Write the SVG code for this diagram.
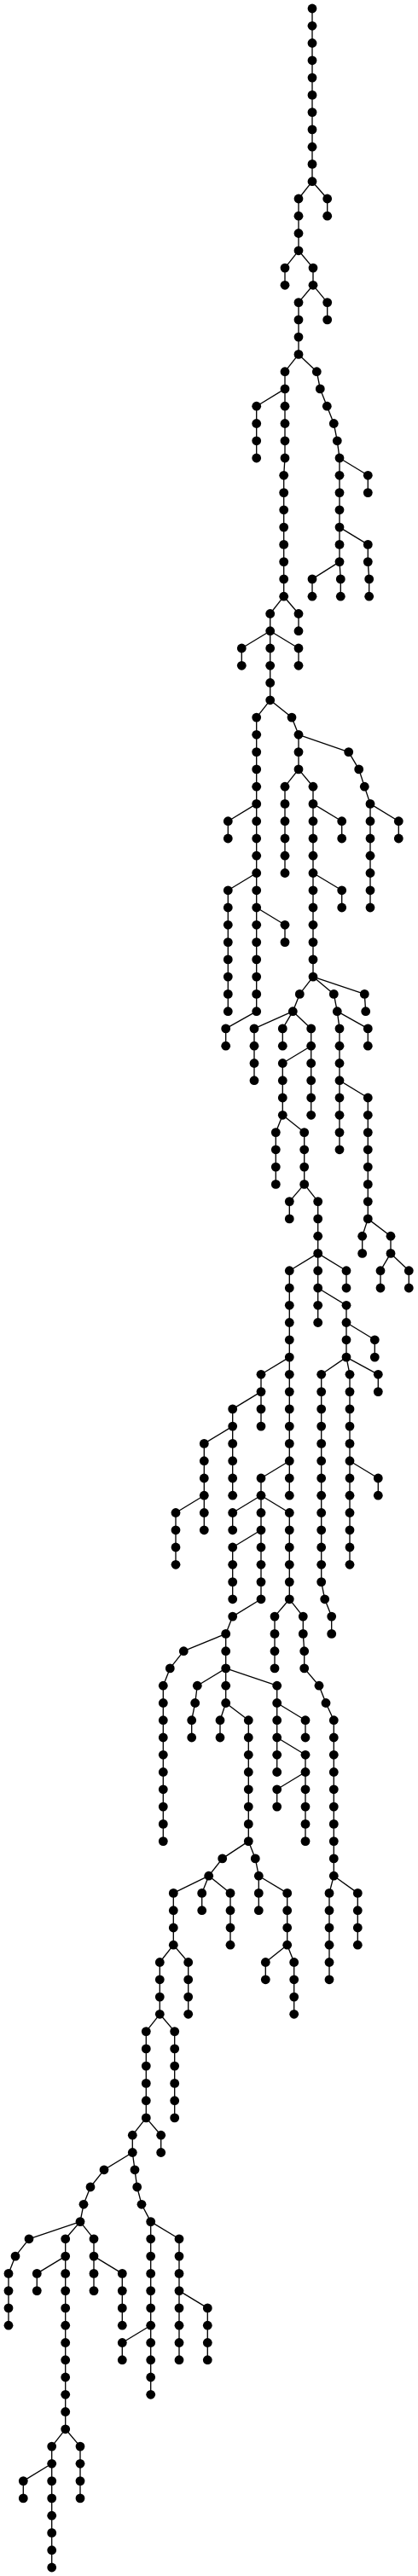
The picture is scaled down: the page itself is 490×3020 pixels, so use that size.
<svg xmlns="http://www.w3.org/2000/svg" width="490" height="3020" viewBox="0 0 490 3020">
<style>
.bg{fill:#fff}
.e path{fill:none;stroke:#000;stroke-width:1.33}
.n circle{fill:#000}
</style>
<rect class="bg" width="490" height="3020"/>
<g id="connectors" class="e">
<path d="M366 10V30.3"/><path d="M366 30.3V50.5"/><path d="M366 50.5V70.8"/><path d="M366 70.8V91.1"/><path d="M366 91.1V111.4"/><path d="M366 111.4V131.6"/><path d="M366 131.6V151.9"/><path d="M366 151.9V172.2"/><path d="M366 172.2V192.4"/><path d="M366 192.4V212.7"/>
<path d="M366 212.7L350 233"/><path d="M366 212.7L383.7 233"/>
<path d="M350 233V253.2"/><path d="M383.7 233V253.2"/>
<path d="M350 253.2V273.5"/><path d="M350 273.5V293.8"/>
<path d="M350 293.8L334 314.1"/><path d="M350 293.8L367 314.1"/>
<path d="M334 314.1V334.3"/><path d="M367 314.1V334.3"/>
<path d="M367 334.3L350 354.6"/><path d="M367 334.3L383.7 354.6"/>
<path d="M350 354.6V374.9"/><path d="M383.7 354.6V374.9"/>
<path d="M350 374.9V395.1"/><path d="M350 395.1V415.4"/>
<path d="M350 415.4L334 435.7"/><path d="M350 415.4L371.3 435.7"/>
<path d="M334 435.7V455.9"/><path d="M371.3 435.7L375.3 455.9"/>
<path d="M334 455.9L300.7 476.2"/><path d="M334 455.9V476.2"/><path d="M375.3 455.9L383.3 476.2"/>
<path d="M300.7 476.2V496.5"/><path d="M334 476.2V496.5"/><path d="M383.3 476.2L391.3 496.5"/>
<path d="M300.7 496.5V516.8"/><path d="M334 496.5V516.8"/><path d="M391.3 496.5L395.3 516.8"/>
<path d="M300.7 516.8V537"/><path d="M334 516.8V537"/><path d="M395.3 516.8L398 537"/>
<path d="M334 537L332.7 557.3"/><path d="M398 537V557.3"/><path d="M398 537L431.3 557.3"/>
<path d="M332.7 557.3V577.6"/><path d="M398 557.3V577.6"/><path d="M431.3 557.3V577.6"/>
<path d="M332.7 577.6V597.8"/><path d="M398 577.6V597.8"/>
<path d="M332.7 597.8V618.1"/><path d="M398 597.8V618.1"/>
<path d="M332.7 618.1V638.4"/><path d="M398 618.1V638.4"/><path d="M398 618.1L431.3 638.4"/>
<path d="M332.7 638.4V658.6"/><path d="M398 638.4V658.6"/><path d="M431.3 638.4V658.6"/>
<path d="M332.7 658.6V678.9"/><path d="M398 658.6L366 678.9"/><path d="M398 658.6L399.3 678.9"/><path d="M431.3 658.6L432.7 678.9"/>
<path d="M332.7 678.9V699.2"/><path d="M366 678.9V699.2"/><path d="M399.3 678.9V699.2"/><path d="M432.7 678.9V699.2"/>
<path d="M332.7 699.2L316.7 719.5"/><path d="M332.7 699.2L350 719.5"/>
<path d="M316.7 719.5V739.7"/><path d="M350 719.5V739.7"/>
<path d="M316.7 739.7L283.3 760"/><path d="M316.7 739.7V760"/><path d="M316.7 739.7L350 760"/>
<path d="M283.3 760V780.3"/><path d="M316.7 760V780.3"/><path d="M350 760V780.3"/>
<path d="M316.7 780.3V800.5"/><path d="M316.7 800.5V820.8"/>
<path d="M316.7 820.8L300.7 841.1"/><path d="M316.7 820.8L342 841.1"/>
<path d="M300.7 841.1V861.3"/><path d="M342 841.1L350 861.3"/>
<path d="M300.7 861.3V881.6"/><path d="M350 861.3V881.6"/><path d="M350 861.3L408.7 881.6"/>
<path d="M300.7 881.6V901.9"/><path d="M350 881.6V901.9"/><path d="M408.7 881.6L420.7 901.9"/>
<path d="M300.7 901.9V922.2"/><path d="M350 901.9L334 922.2"/><path d="M350 901.9L367 922.2"/><path d="M420.7 901.9L427.3 922.2"/>
<path d="M300.7 922.2V942.4"/><path d="M334 922.2V942.4"/><path d="M367 922.2V942.4"/><path d="M427.3 922.2L434 942.4"/>
<path d="M300.7 942.4L267.3 962.7"/><path d="M300.7 942.4V962.7"/><path d="M334 942.4V962.7"/><path d="M367 942.4V962.7"/><path d="M367 942.4L400.7 962.7"/><path d="M434 942.4V962.7"/><path d="M434 942.4L467.3 962.7"/>
<path d="M267.3 962.7V983"/><path d="M300.7 962.7V983"/><path d="M334 962.7V983"/><path d="M367 962.7V983"/><path d="M400.7 962.7V983"/><path d="M434 962.7V983"/><path d="M467.3 962.7V983"/>
<path d="M300.7 983V1003.2"/><path d="M334 983V1003.2"/><path d="M367 983V1003.2"/><path d="M434 983V1003.2"/>
<path d="M300.7 1003.2V1023.5"/><path d="M334 1003.2V1023.5"/><path d="M367 1003.2V1023.5"/><path d="M434 1003.2V1023.5"/>
<path d="M300.7 1023.5L267.3 1043.8"/><path d="M300.7 1023.5V1043.8"/><path d="M367 1023.5V1043.8"/><path d="M367 1023.5L400.7 1043.8"/><path d="M434 1023.5V1043.8"/>
<path d="M267.3 1043.8V1064"/><path d="M300.7 1043.8V1064"/><path d="M367 1043.8V1064"/><path d="M400.7 1043.8V1064"/><path d="M434 1043.8V1064"/>
<path d="M267.3 1064V1084.3"/><path d="M300.7 1064V1084.3"/><path d="M367 1064V1084.3"/><path d="M300.7 1064L334 1084.3"/>
<path d="M267.3 1084.3V1104.6"/><path d="M300.7 1084.3V1104.6"/><path d="M334 1084.3V1104.6"/><path d="M367 1084.3V1104.6"/>
<path d="M267.3 1104.6V1124.9"/><path d="M300.7 1104.6V1124.9"/><path d="M367 1104.6V1124.9"/>
<path d="M267.3 1124.9V1145.1"/><path d="M300.7 1124.9V1145.1"/><path d="M367 1124.9V1145.1"/>
<path d="M267.3 1145.1V1165.4"/><path d="M300.7 1145.1V1165.4"/><path d="M367 1145.1L351.3 1165.4"/><path d="M367 1145.1L391.3 1165.4"/><path d="M367 1145.1L427.3 1165.4"/>
<path d="M267.3 1165.4V1185.7"/><path d="M300.7 1165.4V1185.7"/><path d="M351.3 1165.4L343.3 1185.7"/><path d="M391.3 1165.4L395.3 1185.7"/><path d="M427.3 1165.4L428.7 1185.7"/>
<path d="M300.7 1185.7L264.7 1205.9"/><path d="M343.3 1185.7L298 1205.9"/><path d="M343.3 1185.7L331.3 1205.9"/><path d="M343.3 1185.7L364.7 1205.9"/><path d="M395.3 1185.7L398 1205.9"/><path d="M395.3 1185.7L431.3 1205.9"/>
<path d="M264.7 1205.9V1226.2"/><path d="M298 1205.9V1226.2"/><path d="M331.3 1205.9V1226.2"/><path d="M364.7 1205.9V1226.2"/><path d="M398 1205.9V1226.2"/><path d="M431.3 1205.9V1226.2"/>
<path d="M298 1226.2V1246.5"/><path d="M364.7 1226.2V1246.5"/><path d="M364.7 1226.2L331.3 1246.5"/><path d="M398 1226.2V1246.5"/>
<path d="M298 1246.5V1266.7"/><path d="M331.3 1246.5V1266.7"/><path d="M364.7 1246.5V1266.7"/><path d="M398 1246.5V1266.7"/>
<path d="M331.3 1266.7V1287"/><path d="M364.7 1266.7V1287"/><path d="M398 1266.7V1287"/><path d="M398 1266.7L431.3 1287"/>
<path d="M331.3 1287V1307.3"/><path d="M364.7 1287V1307.3"/><path d="M398 1287V1307.3"/><path d="M431.3 1287V1307.3"/>
<path d="M331.3 1307.3L323.3 1327.6"/><path d="M331.3 1307.3L356.7 1327.6"/><path d="M398 1307.3V1327.6"/><path d="M431.3 1307.3V1327.6"/>
<path d="M323.3 1327.6V1347.8"/><path d="M356.7 1327.6V1347.8"/><path d="M398 1327.6V1347.8"/><path d="M431.3 1327.6V1347.8"/>
<path d="M323.3 1347.8V1368.1"/><path d="M356.7 1347.8V1368.1"/><path d="M431.3 1347.8V1368.1"/>
<path d="M323.3 1368.1V1388.4"/><path d="M356.7 1368.1V1388.4"/><path d="M431.3 1368.1V1388.4"/>
<path d="M356.7 1388.4L339.3 1408.6"/><path d="M356.7 1388.4L372.7 1408.6"/><path d="M431.3 1388.4V1408.6"/>
<path d="M339.3 1408.6V1428.9"/><path d="M372.7 1408.6V1428.9"/><path d="M431.3 1408.6V1428.9"/>
<path d="M372.7 1428.9V1449.2"/><path d="M431.3 1428.9L424.7 1449.2"/><path d="M431.3 1428.9L458 1449.2"/>
<path d="M372.7 1449.2V1469.4"/><path d="M424.7 1449.2V1469.4"/><path d="M458 1449.2V1469.4"/>
<path d="M372.7 1469.4L339.3 1489.7"/><path d="M372.7 1469.4V1489.7"/><path d="M372.7 1469.4L406 1489.7"/><path d="M458 1469.4L446 1489.7"/><path d="M458 1469.4L479.3 1489.7"/>
<path d="M339.3 1489.7V1510"/><path d="M372.7 1489.7V1510"/><path d="M406 1489.7V1510"/><path d="M446 1489.7V1510"/><path d="M479.3 1489.7V1510"/>
<path d="M339.3 1510V1530.3"/><path d="M372.7 1510V1530.3"/><path d="M372.7 1510L406 1530.3"/>
<path d="M339.3 1530.3V1550.5"/><path d="M372.7 1530.3V1550.5"/><path d="M406 1530.3V1550.5"/>
<path d="M339.3 1550.5V1570.8"/><path d="M406 1550.5V1570.8"/><path d="M406 1550.5L439.3 1570.8"/>
<path d="M339.3 1570.8V1591.1"/><path d="M406 1570.8V1591.1"/><path d="M439.3 1570.8V1591.1"/>
<path d="M339.3 1591.1L306 1611.3"/><path d="M339.3 1591.1V1611.3"/><path d="M406 1591.1L376.7 1611.3"/><path d="M406 1591.1L410 1611.3"/><path d="M406 1591.1L443.3 1611.3"/>
<path d="M306 1611.3V1631.6"/><path d="M339.3 1611.3V1631.6"/><path d="M376.7 1611.3V1631.6"/><path d="M410 1611.3V1631.6"/><path d="M443.3 1611.3V1631.6"/>
<path d="M306 1631.6L272.7 1651.9"/><path d="M306 1631.6V1651.9"/><path d="M339.3 1631.6V1651.9"/><path d="M376.7 1631.6V1651.9"/><path d="M410 1631.6V1651.9"/>
<path d="M272.7 1651.9V1672.1"/><path d="M306 1651.9V1672.1"/><path d="M339.3 1651.9V1672.1"/><path d="M376.7 1651.9V1672.1"/><path d="M410 1651.9V1672.1"/>
<path d="M272.7 1672.1L239.3 1692.4"/><path d="M272.7 1672.1V1692.4"/><path d="M339.3 1672.1V1692.4"/><path d="M376.7 1672.1V1692.4"/><path d="M410 1672.1V1692.4"/>
<path d="M239.3 1692.4V1712.7"/><path d="M272.7 1692.4V1712.7"/><path d="M339.3 1692.4V1712.7"/><path d="M376.7 1692.4V1712.7"/><path d="M410 1692.4V1712.7"/>
<path d="M239.3 1712.7V1733"/><path d="M272.7 1712.7V1733"/><path d="M339.3 1712.7L306 1733"/><path d="M339.3 1712.7V1733"/><path d="M376.7 1712.7V1733"/><path d="M410 1712.7V1733"/><path d="M410 1712.7L443.3 1733"/>
<path d="M239.3 1733V1753.2"/><path d="M272.7 1733V1753.2"/><path d="M306 1733V1753.2"/><path d="M339.3 1733V1753.2"/><path d="M376.7 1733V1753.2"/><path d="M410 1733V1753.2"/><path d="M443.3 1733V1753.2"/>
<path d="M239.3 1753.2L206 1773.5"/><path d="M239.3 1753.2V1773.5"/><path d="M306 1753.2L272.7 1773.5"/><path d="M306 1753.2V1773.5"/><path d="M306 1753.2L339.3 1773.5"/><path d="M376.7 1753.2V1773.5"/><path d="M410 1753.2V1773.5"/>
<path d="M206 1773.5V1793.8"/><path d="M239.3 1773.5V1793.8"/><path d="M272.7 1773.5V1793.8"/><path d="M306 1773.5V1793.8"/><path d="M339.3 1773.5V1793.8"/><path d="M376.7 1773.5V1793.8"/><path d="M410 1773.5V1793.8"/>
<path d="M206 1793.8V1814"/><path d="M306 1793.8L272.7 1814"/><path d="M306 1793.8V1814"/><path d="M339.3 1793.8V1814"/><path d="M376.7 1793.8V1814"/><path d="M410 1793.8V1814"/>
<path d="M206 1814V1834.3"/><path d="M272.7 1814V1834.3"/><path d="M306 1814V1834.3"/><path d="M339.3 1814V1834.3"/><path d="M376.7 1814V1834.3"/><path d="M410 1814V1834.3"/>
<path d="M272.7 1834.3V1854.6"/><path d="M306 1834.3V1854.6"/><path d="M339.3 1834.3V1854.6"/><path d="M376.7 1834.3V1854.6"/>
<path d="M272.7 1854.6V1874.8"/><path d="M306 1854.6V1874.8"/><path d="M339.3 1854.6V1874.8"/><path d="M376.7 1854.6L380.7 1874.8"/>
<path d="M306 1874.8L272.7 1895.1"/><path d="M339.3 1874.8L322 1895.1"/><path d="M339.3 1874.8L355.3 1895.1"/><path d="M380.7 1874.8L388.7 1895.1"/>
<path d="M272.7 1895.1L264.7 1915.4"/><path d="M322 1895.1V1915.4"/><path d="M355.3 1895.1V1915.4"/><path d="M388.7 1895.1V1915.4"/>
<path d="M264.7 1915.4L215.3 1935.7"/><path d="M264.7 1915.4V1935.7"/><path d="M322 1915.4V1935.7"/><path d="M355.3 1915.4L356.7 1935.7"/>
<path d="M215.3 1935.7L199.3 1955.9"/><path d="M264.7 1935.7V1955.9"/><path d="M322 1935.7V1955.9"/><path d="M356.7 1935.7V1955.9"/>
<path d="M199.3 1955.9L191.3 1976.2"/><path d="M264.7 1955.9L231.3 1976.2"/><path d="M264.7 1955.9V1976.2"/><path d="M264.7 1955.9L324.7 1976.2"/><path d="M356.7 1955.9L374 1976.2"/>
<path d="M191.3 1976.2V1996.5"/><path d="M231.3 1976.2L228.7 1996.5"/><path d="M264.7 1976.2V1996.5"/><path d="M324.7 1976.2V1996.5"/><path d="M374 1976.2L382 1996.5"/>
<path d="M191.3 1996.5V2016.7"/><path d="M228.7 1996.5L224.7 2016.7"/><path d="M264.7 1996.5L258 2016.7"/><path d="M264.7 1996.5L291.3 2016.7"/><path d="M324.7 1996.5V2016.7"/><path d="M324.7 1996.5L358 2016.7"/><path d="M382 1996.5L391.3 2016.7"/>
<path d="M191.3 2016.7V2037"/><path d="M224.7 2016.7V2037"/><path d="M258 2016.7V2037"/><path d="M291.3 2016.7V2037"/><path d="M324.7 2016.7V2037"/><path d="M358 2016.7V2037"/><path d="M391.3 2016.7V2037"/>
<path d="M191.3 2037V2057.3"/><path d="M291.3 2037V2057.3"/><path d="M324.7 2037V2057.3"/><path d="M324.7 2037L358 2057.3"/><path d="M391.3 2037V2057.3"/>
<path d="M191.3 2057.3V2077.5"/><path d="M291.3 2057.3V2077.5"/><path d="M324.7 2057.3V2077.5"/><path d="M358 2057.3V2077.5"/><path d="M391.3 2057.3V2077.5"/>
<path d="M191.3 2077.5V2097.8"/><path d="M291.3 2077.5V2097.8"/><path d="M358 2077.5L324.7 2097.8"/><path d="M358 2077.5V2097.8"/><path d="M391.3 2077.5V2097.8"/>
<path d="M191.3 2097.8V2118.1"/><path d="M291.3 2097.8V2118.1"/><path d="M324.7 2097.8V2118.1"/><path d="M358 2097.8V2118.1"/><path d="M391.3 2097.8V2118.1"/>
<path d="M191.3 2118.1V2138.4"/><path d="M291.3 2118.1V2138.4"/><path d="M358 2118.1V2138.4"/><path d="M391.3 2118.1V2138.4"/>
<path d="M191.3 2138.4V2158.6"/><path d="M291.3 2138.4V2158.6"/><path d="M358 2138.4V2158.6"/><path d="M391.3 2138.4V2158.6"/>
<path d="M291.3 2158.6L260.7 2178.9"/><path d="M291.3 2158.6L299.3 2178.9"/><path d="M391.3 2158.6V2178.9"/>
<path d="M260.7 2178.9L244.7 2199.2"/><path d="M299.3 2178.9L303.3 2199.2"/><path d="M391.3 2178.9V2199.2"/>
<path d="M244.7 2199.2L203.3 2219.4"/><path d="M244.7 2199.2L236.7 2219.4"/><path d="M244.7 2199.2L270 2219.4"/><path d="M303.3 2199.2V2219.4"/><path d="M303.3 2199.2L336.7 2219.4"/><path d="M391.3 2199.2L386 2219.4"/><path d="M391.3 2199.2L419.3 2219.4"/>
<path d="M203.3 2219.4V2239.7"/><path d="M236.7 2219.4V2239.7"/><path d="M270 2219.4V2239.7"/><path d="M303.3 2219.4V2239.7"/><path d="M336.7 2219.4V2239.7"/><path d="M386 2219.4V2239.7"/><path d="M419.3 2219.4V2239.7"/>
<path d="M203.3 2239.7V2260"/><path d="M270 2239.7V2260"/><path d="M336.7 2239.7V2260"/><path d="M386 2239.7V2260"/><path d="M419.3 2239.7V2260"/>
<path d="M203.3 2260V2280.2"/><path d="M270 2260V2280.2"/><path d="M336.7 2260V2280.2"/><path d="M386 2260V2280.2"/><path d="M419.3 2260V2280.2"/>
<path d="M203.3 2280.2L187.3 2300.5"/><path d="M203.3 2280.2L220.7 2300.5"/><path d="M336.7 2280.2L311.3 2300.5"/><path d="M336.7 2280.2L344.7 2300.5"/><path d="M386 2280.2V2300.5"/>
<path d="M187.3 2300.5V2320.8"/><path d="M220.7 2300.5V2320.8"/><path d="M311.3 2300.5V2320.8"/><path d="M344.7 2300.5V2320.8"/><path d="M386 2300.5V2320.8"/>
<path d="M187.3 2320.8V2341.1"/><path d="M220.7 2320.8V2341.1"/><path d="M344.7 2320.8V2341.1"/>
<path d="M187.3 2341.1V2361.3"/><path d="M220.7 2341.1V2361.3"/><path d="M344.7 2341.1V2361.3"/>
<path d="M187.3 2361.3L171.3 2381.6"/><path d="M187.3 2361.3L204.7 2381.6"/>
<path d="M171.3 2381.6V2401.9"/><path d="M204.7 2381.6V2401.9"/>
<path d="M171.3 2401.9V2422.1"/><path d="M204.7 2401.9V2422.1"/>
<path d="M171.3 2422.1V2442.4"/><path d="M204.7 2422.1V2442.4"/>
<path d="M171.3 2442.4V2462.7"/><path d="M204.7 2442.4V2462.7"/>
<path d="M171.3 2462.7V2482.9"/><path d="M204.7 2462.7V2482.9"/>
<path d="M171.3 2482.9L155.3 2503.2"/><path d="M171.3 2482.9L188.7 2503.2"/>
<path d="M155.3 2503.2V2523.5"/><path d="M188.7 2503.2V2523.5"/>
<path d="M155.3 2523.5L122 2543.8"/><path d="M155.3 2523.5L158 2543.8"/>
<path d="M122 2543.8L106 2564"/><path d="M158 2543.8L160.7 2564"/>
<path d="M106 2564L98 2584.3"/><path d="M160.7 2564L166 2584.3"/>
<path d="M98 2584.3L94 2604.6"/><path d="M166 2584.3L176.7 2604.6"/>
<path d="M94 2604.6L34 2624.8"/><path d="M94 2604.6L76.7 2624.8"/><path d="M94 2604.6L110 2624.8"/><path d="M176.7 2604.6V2624.8"/><path d="M176.7 2604.6L210 2624.8"/>
<path d="M34 2624.8L18 2645.1"/><path d="M76.7 2624.8V2645.1"/><path d="M110 2624.8V2645.1"/><path d="M176.7 2624.8V2645.1"/><path d="M210 2624.8V2645.1"/>
<path d="M18 2645.1L10 2665.4"/><path d="M76.7 2645.1L43.3 2665.4"/><path d="M76.7 2645.1V2665.4"/><path d="M110 2645.1V2665.4"/><path d="M110 2645.1L143.3 2665.4"/><path d="M176.7 2645.1V2665.4"/><path d="M210 2645.1V2665.4"/>
<path d="M10 2665.4V2685.6"/><path d="M43.3 2665.4V2685.6"/><path d="M76.7 2665.4V2685.6"/><path d="M110 2665.4V2685.6"/><path d="M143.3 2665.4V2685.6"/><path d="M176.7 2665.4V2685.6"/><path d="M210 2665.4V2685.6"/>
<path d="M10 2685.6V2705.9"/><path d="M76.7 2685.6V2705.9"/><path d="M143.3 2685.6V2705.9"/><path d="M176.7 2685.6V2705.9"/><path d="M210 2685.6V2705.9"/><path d="M210 2685.6L243.3 2705.9"/>
<path d="M10 2705.9V2726.2"/><path d="M76.7 2705.9V2726.2"/><path d="M143.3 2705.9V2726.2"/><path d="M176.7 2705.9V2726.2"/><path d="M210 2705.9V2726.2"/><path d="M243.3 2705.9V2726.2"/>
<path d="M76.7 2726.2V2746.5"/><path d="M176.7 2726.2L143.3 2746.5"/><path d="M176.7 2726.2V2746.5"/><path d="M210 2726.2V2746.5"/><path d="M243.3 2726.2V2746.5"/>
<path d="M76.7 2746.5V2766.7"/><path d="M143.3 2746.5V2766.7"/><path d="M176.7 2746.5V2766.7"/><path d="M210 2746.5V2766.7"/><path d="M243.3 2746.5V2766.7"/>
<path d="M76.7 2766.7V2787"/><path d="M176.7 2766.7V2787"/>
<path d="M76.7 2787V2807.3"/><path d="M176.7 2787V2807.3"/>
<path d="M76.7 2807.3V2827.5"/><path d="M76.7 2827.5V2847.8"/>
<path d="M76.7 2847.8L60.7 2868.1"/><path d="M76.7 2847.8L94 2868.1"/>
<path d="M60.7 2868.1V2888.3"/><path d="M94 2868.1V2888.3"/>
<path d="M60.7 2888.3L27.3 2908.6"/><path d="M60.7 2888.3V2908.6"/><path d="M94 2888.3V2908.6"/>
<path d="M27.3 2908.6V2928.9"/><path d="M60.7 2908.6V2928.9"/><path d="M94 2908.6V2928.9"/>
<path d="M60.7 2928.9V2949.2"/><path d="M60.7 2949.2V2969.4"/><path d="M60.7 2969.4V2989.7"/><path d="M60.7 2989.7V3010"/>
</g>
<g id="nodes" class="n">
<g id="n0a"><circle cx="366" cy="10" r="5.4"/></g>
<g id="n1a"><circle cx="366" cy="30.3" r="5.4"/></g>
<g id="n2a"><circle cx="366" cy="50.5" r="5.4"/></g>
<g id="n3a"><circle cx="366" cy="70.8" r="5.4"/></g>
<g id="n4a"><circle cx="366" cy="91.1" r="5.4"/></g>
<g id="n5a"><circle cx="366" cy="111.4" r="5.4"/></g>
<g id="n6a"><circle cx="366" cy="131.6" r="5.4"/></g>
<g id="n7a"><circle cx="366" cy="151.9" r="5.4"/></g>
<g id="n8a"><circle cx="366" cy="172.2" r="5.4"/></g>
<g id="n9a"><circle cx="366" cy="192.4" r="5.4"/></g>
<g id="n10a"><circle cx="366" cy="212.7" r="5.4"/></g>
<g id="n11a"><circle cx="350" cy="233" r="5.4"/></g><g id="n11b"><circle cx="383.7" cy="233" r="5.4"/></g>
<g id="n12a"><circle cx="350" cy="253.2" r="5.4"/></g><g id="n12b"><circle cx="383.7" cy="253.2" r="5.4"/></g>
<g id="n13a"><circle cx="350" cy="273.5" r="5.4"/></g>
<g id="n14a"><circle cx="350" cy="293.8" r="5.4"/></g>
<g id="n15a"><circle cx="334" cy="314.1" r="5.4"/></g><g id="n15b"><circle cx="367" cy="314.1" r="5.4"/></g>
<g id="n16a"><circle cx="334" cy="334.3" r="5.4"/></g><g id="n16b"><circle cx="367" cy="334.3" r="5.4"/></g>
<g id="n17a"><circle cx="350" cy="354.6" r="5.4"/></g><g id="n17b"><circle cx="383.7" cy="354.6" r="5.4"/></g>
<g id="n18a"><circle cx="350" cy="374.9" r="5.4"/></g><g id="n18b"><circle cx="383.7" cy="374.9" r="5.4"/></g>
<g id="n19a"><circle cx="350" cy="395.1" r="5.4"/></g>
<g id="n20a"><circle cx="350" cy="415.4" r="5.4"/></g>
<g id="n21a"><circle cx="334" cy="435.7" r="5.4"/></g><g id="n21b"><circle cx="371.3" cy="435.7" r="5.4"/></g>
<g id="n22a"><circle cx="334" cy="455.9" r="5.4"/></g><g id="n22b"><circle cx="375.3" cy="455.9" r="5.4"/></g>
<g id="n23a"><circle cx="300.7" cy="476.2" r="5.4"/></g><g id="n23b"><circle cx="334" cy="476.2" r="5.4"/></g><g id="n23c"><circle cx="383.3" cy="476.2" r="5.4"/></g>
<g id="n24a"><circle cx="300.7" cy="496.5" r="5.4"/></g><g id="n24b"><circle cx="334" cy="496.5" r="5.4"/></g><g id="n24c"><circle cx="391.3" cy="496.5" r="5.4"/></g>
<g id="n25a"><circle cx="300.7" cy="516.8" r="5.4"/></g><g id="n25b"><circle cx="334" cy="516.8" r="5.4"/></g><g id="n25c"><circle cx="395.3" cy="516.8" r="5.4"/></g>
<g id="n26a"><circle cx="300.7" cy="537" r="5.4"/></g><g id="n26b"><circle cx="334" cy="537" r="5.4"/></g><g id="n26c"><circle cx="398" cy="537" r="5.4"/></g>
<g id="n27a"><circle cx="332.7" cy="557.3" r="5.4"/></g><g id="n27b"><circle cx="398" cy="557.3" r="5.4"/></g><g id="n27c"><circle cx="431.3" cy="557.3" r="5.4"/></g>
<g id="n28a"><circle cx="332.7" cy="577.6" r="5.4"/></g><g id="n28b"><circle cx="398" cy="577.6" r="5.4"/></g><g id="n28c"><circle cx="431.3" cy="577.6" r="5.4"/></g>
<g id="n29a"><circle cx="332.7" cy="597.8" r="5.4"/></g><g id="n29b"><circle cx="398" cy="597.8" r="5.4"/></g>
<g id="n30a"><circle cx="332.7" cy="618.1" r="5.4"/></g><g id="n30b"><circle cx="398" cy="618.1" r="5.4"/></g>
<g id="n31a"><circle cx="332.7" cy="638.4" r="5.4"/></g><g id="n31b"><circle cx="398" cy="638.4" r="5.4"/></g><g id="n31c"><circle cx="431.3" cy="638.4" r="5.4"/></g>
<g id="n32a"><circle cx="332.7" cy="658.6" r="5.4"/></g><g id="n32b"><circle cx="398" cy="658.6" r="5.4"/></g><g id="n32c"><circle cx="431.3" cy="658.6" r="5.4"/></g>
<g id="n33a"><circle cx="332.7" cy="678.9" r="5.4"/></g><g id="n33b"><circle cx="366" cy="678.9" r="5.4"/></g><g id="n33c"><circle cx="399.3" cy="678.9" r="5.4"/></g><g id="n33d"><circle cx="432.7" cy="678.9" r="5.4"/></g>
<g id="n34a"><circle cx="332.7" cy="699.2" r="5.4"/></g><g id="n34b"><circle cx="366" cy="699.2" r="5.4"/></g><g id="n34c"><circle cx="399.3" cy="699.2" r="5.4"/></g><g id="n34d"><circle cx="432.7" cy="699.2" r="5.4"/></g>
<g id="n35a"><circle cx="316.7" cy="719.5" r="5.4"/></g><g id="n35b"><circle cx="350" cy="719.5" r="5.4"/></g>
<g id="n36a"><circle cx="316.7" cy="739.7" r="5.4"/></g><g id="n36b"><circle cx="350" cy="739.7" r="5.4"/></g>
<g id="n37a"><circle cx="283.3" cy="760" r="5.4"/></g><g id="n37b"><circle cx="316.7" cy="760" r="5.4"/></g><g id="n37c"><circle cx="350" cy="760" r="5.4"/></g>
<g id="n38a"><circle cx="283.3" cy="780.3" r="5.4"/></g><g id="n38b"><circle cx="316.7" cy="780.3" r="5.4"/></g><g id="n38c"><circle cx="350" cy="780.3" r="5.4"/></g>
<g id="n39a"><circle cx="316.7" cy="800.5" r="5.4"/></g>
<g id="n40a"><circle cx="316.7" cy="820.8" r="5.4"/></g>
<g id="n41a"><circle cx="300.7" cy="841.1" r="5.4"/></g><g id="n41b"><circle cx="342" cy="841.1" r="5.4"/></g>
<g id="n42a"><circle cx="300.7" cy="861.3" r="5.4"/></g><g id="n42b"><circle cx="350" cy="861.3" r="5.4"/></g>
<g id="n43a"><circle cx="300.7" cy="881.6" r="5.4"/></g><g id="n43b"><circle cx="350" cy="881.6" r="5.4"/></g><g id="n43c"><circle cx="408.7" cy="881.6" r="5.4"/></g>
<g id="n44a"><circle cx="300.7" cy="901.9" r="5.4"/></g><g id="n44b"><circle cx="350" cy="901.9" r="5.4"/></g><g id="n44c"><circle cx="420.7" cy="901.9" r="5.4"/></g>
<g id="n45a"><circle cx="300.7" cy="922.2" r="5.4"/></g><g id="n45b"><circle cx="334" cy="922.2" r="5.4"/></g><g id="n45c"><circle cx="367" cy="922.2" r="5.4"/></g><g id="n45d"><circle cx="427.3" cy="922.2" r="5.4"/></g>
<g id="n46a"><circle cx="300.7" cy="942.4" r="5.4"/></g><g id="n46b"><circle cx="334" cy="942.4" r="5.4"/></g><g id="n46c"><circle cx="367" cy="942.4" r="5.4"/></g><g id="n46d"><circle cx="434" cy="942.4" r="5.4"/></g>
<g id="n47a"><circle cx="267.3" cy="962.7" r="5.4"/></g><g id="n47b"><circle cx="300.7" cy="962.7" r="5.4"/></g><g id="n47c"><circle cx="334" cy="962.7" r="5.4"/></g><g id="n47d"><circle cx="367" cy="962.7" r="5.4"/></g><g id="n47e"><circle cx="400.7" cy="962.7" r="5.4"/></g><g id="n47f"><circle cx="434" cy="962.7" r="5.4"/></g><g id="n47g"><circle cx="467.3" cy="962.7" r="5.4"/></g>
<g id="n48a"><circle cx="267.3" cy="983" r="5.4"/></g><g id="n48b"><circle cx="300.7" cy="983" r="5.4"/></g><g id="n48c"><circle cx="334" cy="983" r="5.4"/></g><g id="n48d"><circle cx="367" cy="983" r="5.4"/></g><g id="n48e"><circle cx="400.7" cy="983" r="5.4"/></g><g id="n48f"><circle cx="434" cy="983" r="5.4"/></g><g id="n48g"><circle cx="467.3" cy="983" r="5.4"/></g>
<g id="n49a"><circle cx="300.7" cy="1003.2" r="5.4"/></g><g id="n49b"><circle cx="334" cy="1003.2" r="5.4"/></g><g id="n49c"><circle cx="367" cy="1003.2" r="5.4"/></g><g id="n49d"><circle cx="434" cy="1003.2" r="5.4"/></g>
<g id="n50a"><circle cx="300.7" cy="1023.5" r="5.4"/></g><g id="n50b"><circle cx="334" cy="1023.5" r="5.4"/></g><g id="n50c"><circle cx="367" cy="1023.5" r="5.4"/></g><g id="n50d"><circle cx="434" cy="1023.5" r="5.4"/></g>
<g id="n51a"><circle cx="267.3" cy="1043.8" r="5.4"/></g><g id="n51b"><circle cx="300.7" cy="1043.8" r="5.4"/></g><g id="n51c"><circle cx="367" cy="1043.8" r="5.4"/></g><g id="n51d"><circle cx="400.7" cy="1043.8" r="5.4"/></g><g id="n51e"><circle cx="434" cy="1043.8" r="5.4"/></g>
<g id="n52a"><circle cx="267.3" cy="1064" r="5.4"/></g><g id="n52b"><circle cx="300.7" cy="1064" r="5.4"/></g><g id="n52c"><circle cx="367" cy="1064" r="5.4"/></g><g id="n52d"><circle cx="400.7" cy="1064" r="5.4"/></g><g id="n52e"><circle cx="434" cy="1064" r="5.4"/></g>
<g id="n53a"><circle cx="267.3" cy="1084.3" r="5.4"/></g><g id="n53b"><circle cx="300.7" cy="1084.3" r="5.4"/></g><g id="n53c"><circle cx="334" cy="1084.3" r="5.4"/></g><g id="n53d"><circle cx="367" cy="1084.3" r="5.4"/></g>
<g id="n54a"><circle cx="267.3" cy="1104.6" r="5.4"/></g><g id="n54b"><circle cx="300.7" cy="1104.6" r="5.4"/></g><g id="n54c"><circle cx="334" cy="1104.6" r="5.4"/></g><g id="n54d"><circle cx="367" cy="1104.6" r="5.4"/></g>
<g id="n55a"><circle cx="267.3" cy="1124.9" r="5.4"/></g><g id="n55b"><circle cx="300.7" cy="1124.9" r="5.4"/></g><g id="n55c"><circle cx="367" cy="1124.9" r="5.4"/></g>
<g id="n56a"><circle cx="267.3" cy="1145.1" r="5.4"/></g><g id="n56b"><circle cx="300.7" cy="1145.1" r="5.4"/></g><g id="n56c"><circle cx="367" cy="1145.1" r="5.4"/></g>
<g id="n57a"><circle cx="267.3" cy="1165.4" r="5.4"/></g><g id="n57b"><circle cx="300.7" cy="1165.4" r="5.4"/></g><g id="n57c"><circle cx="351.3" cy="1165.4" r="5.4"/></g><g id="n57d"><circle cx="391.3" cy="1165.4" r="5.4"/></g><g id="n57e"><circle cx="427.3" cy="1165.4" r="5.4"/></g>
<g id="n58a"><circle cx="267.3" cy="1185.7" r="5.4"/></g><g id="n58b"><circle cx="300.7" cy="1185.7" r="5.4"/></g><g id="n58c"><circle cx="343.3" cy="1185.7" r="5.4"/></g><g id="n58d"><circle cx="395.3" cy="1185.7" r="5.4"/></g><g id="n58e"><circle cx="428.7" cy="1185.7" r="5.4"/></g>
<g id="n59a"><circle cx="264.7" cy="1205.9" r="5.4"/></g><g id="n59b"><circle cx="298" cy="1205.9" r="5.4"/></g><g id="n59c"><circle cx="331.3" cy="1205.9" r="5.4"/></g><g id="n59d"><circle cx="364.7" cy="1205.9" r="5.4"/></g><g id="n59e"><circle cx="398" cy="1205.9" r="5.4"/></g><g id="n59f"><circle cx="431.3" cy="1205.9" r="5.4"/></g>
<g id="n60a"><circle cx="264.7" cy="1226.2" r="5.4"/></g><g id="n60b"><circle cx="298" cy="1226.2" r="5.4"/></g><g id="n60c"><circle cx="331.3" cy="1226.2" r="5.4"/></g><g id="n60d"><circle cx="364.7" cy="1226.2" r="5.4"/></g><g id="n60e"><circle cx="398" cy="1226.2" r="5.4"/></g><g id="n60f"><circle cx="431.3" cy="1226.2" r="5.4"/></g>
<g id="n61a"><circle cx="298" cy="1246.5" r="5.4"/></g><g id="n61b"><circle cx="331.3" cy="1246.5" r="5.4"/></g><g id="n61c"><circle cx="364.7" cy="1246.5" r="5.4"/></g><g id="n61d"><circle cx="398" cy="1246.5" r="5.4"/></g>
<g id="n62a"><circle cx="298" cy="1266.7" r="5.4"/></g><g id="n62b"><circle cx="331.3" cy="1266.7" r="5.4"/></g><g id="n62c"><circle cx="364.7" cy="1266.7" r="5.4"/></g><g id="n62d"><circle cx="398" cy="1266.7" r="5.4"/></g>
<g id="n63a"><circle cx="331.3" cy="1287" r="5.4"/></g><g id="n63b"><circle cx="364.7" cy="1287" r="5.4"/></g><g id="n63c"><circle cx="398" cy="1287" r="5.4"/></g><g id="n63d"><circle cx="431.3" cy="1287" r="5.4"/></g>
<g id="n64a"><circle cx="331.3" cy="1307.3" r="5.4"/></g><g id="n64b"><circle cx="364.7" cy="1307.3" r="5.4"/></g><g id="n64c"><circle cx="398" cy="1307.3" r="5.4"/></g><g id="n64d"><circle cx="431.3" cy="1307.3" r="5.4"/></g>
<g id="n65a"><circle cx="323.3" cy="1327.6" r="5.4"/></g><g id="n65b"><circle cx="356.7" cy="1327.6" r="5.4"/></g><g id="n65c"><circle cx="398" cy="1327.6" r="5.4"/></g><g id="n65d"><circle cx="431.3" cy="1327.6" r="5.4"/></g>
<g id="n66a"><circle cx="323.3" cy="1347.8" r="5.4"/></g><g id="n66b"><circle cx="356.7" cy="1347.8" r="5.4"/></g><g id="n66c"><circle cx="398" cy="1347.8" r="5.4"/></g><g id="n66d"><circle cx="431.3" cy="1347.8" r="5.4"/></g>
<g id="n67a"><circle cx="323.3" cy="1368.1" r="5.4"/></g><g id="n67b"><circle cx="356.7" cy="1368.1" r="5.4"/></g><g id="n67c"><circle cx="431.3" cy="1368.1" r="5.4"/></g>
<g id="n68a"><circle cx="323.3" cy="1388.4" r="5.4"/></g><g id="n68b"><circle cx="356.7" cy="1388.4" r="5.4"/></g><g id="n68c"><circle cx="431.3" cy="1388.4" r="5.4"/></g>
<g id="n69a"><circle cx="339.3" cy="1408.6" r="5.4"/></g><g id="n69b"><circle cx="372.7" cy="1408.6" r="5.4"/></g><g id="n69c"><circle cx="431.3" cy="1408.6" r="5.4"/></g>
<g id="n70a"><circle cx="339.3" cy="1428.9" r="5.4"/></g><g id="n70b"><circle cx="372.7" cy="1428.9" r="5.4"/></g><g id="n70c"><circle cx="431.3" cy="1428.9" r="5.4"/></g>
<g id="n71a"><circle cx="372.7" cy="1449.2" r="5.4"/></g><g id="n71b"><circle cx="424.7" cy="1449.2" r="5.4"/></g><g id="n71c"><circle cx="458" cy="1449.2" r="5.4"/></g>
<g id="n72a"><circle cx="372.7" cy="1469.4" r="5.4"/></g><g id="n72b"><circle cx="424.7" cy="1469.4" r="5.4"/></g><g id="n72c"><circle cx="458" cy="1469.4" r="5.4"/></g>
<g id="n73a"><circle cx="339.3" cy="1489.7" r="5.4"/></g><g id="n73b"><circle cx="372.7" cy="1489.7" r="5.4"/></g><g id="n73c"><circle cx="406" cy="1489.7" r="5.4"/></g><g id="n73d"><circle cx="446" cy="1489.7" r="5.4"/></g><g id="n73e"><circle cx="479.3" cy="1489.7" r="5.4"/></g>
<g id="n74a"><circle cx="339.3" cy="1510" r="5.4"/></g><g id="n74b"><circle cx="372.7" cy="1510" r="5.4"/></g><g id="n74c"><circle cx="406" cy="1510" r="5.4"/></g><g id="n74d"><circle cx="446" cy="1510" r="5.4"/></g><g id="n74e"><circle cx="479.3" cy="1510" r="5.4"/></g>
<g id="n75a"><circle cx="339.3" cy="1530.3" r="5.4"/></g><g id="n75b"><circle cx="372.7" cy="1530.3" r="5.4"/></g><g id="n75c"><circle cx="406" cy="1530.3" r="5.4"/></g>
<g id="n76a"><circle cx="339.3" cy="1550.5" r="5.4"/></g><g id="n76b"><circle cx="372.7" cy="1550.5" r="5.4"/></g><g id="n76c"><circle cx="406" cy="1550.5" r="5.4"/></g>
<g id="n77a"><circle cx="339.3" cy="1570.8" r="5.4"/></g><g id="n77b"><circle cx="406" cy="1570.8" r="5.4"/></g><g id="n77c"><circle cx="439.3" cy="1570.8" r="5.4"/></g>
<g id="n78a"><circle cx="339.3" cy="1591.1" r="5.4"/></g><g id="n78b"><circle cx="406" cy="1591.1" r="5.4"/></g><g id="n78c"><circle cx="439.3" cy="1591.1" r="5.4"/></g>
<g id="n79a"><circle cx="306" cy="1611.3" r="5.4"/></g><g id="n79b"><circle cx="339.3" cy="1611.3" r="5.4"/></g><g id="n79c"><circle cx="376.7" cy="1611.3" r="5.4"/></g><g id="n79d"><circle cx="410" cy="1611.3" r="5.4"/></g><g id="n79e"><circle cx="443.3" cy="1611.3" r="5.4"/></g>
<g id="n80a"><circle cx="306" cy="1631.6" r="5.4"/></g><g id="n80b"><circle cx="339.3" cy="1631.6" r="5.4"/></g><g id="n80c"><circle cx="376.7" cy="1631.6" r="5.4"/></g><g id="n80d"><circle cx="410" cy="1631.6" r="5.4"/></g><g id="n80e"><circle cx="443.3" cy="1631.6" r="5.4"/></g>
<g id="n81a"><circle cx="272.7" cy="1651.9" r="5.4"/></g><g id="n81b"><circle cx="306" cy="1651.9" r="5.4"/></g><g id="n81c"><circle cx="339.3" cy="1651.9" r="5.4"/></g><g id="n81d"><circle cx="376.7" cy="1651.9" r="5.4"/></g><g id="n81e"><circle cx="410" cy="1651.9" r="5.4"/></g>
<g id="n82a"><circle cx="272.7" cy="1672.1" r="5.4"/></g><g id="n82b"><circle cx="306" cy="1672.1" r="5.4"/></g><g id="n82c"><circle cx="339.3" cy="1672.1" r="5.4"/></g><g id="n82d"><circle cx="376.7" cy="1672.1" r="5.4"/></g><g id="n82e"><circle cx="410" cy="1672.1" r="5.4"/></g>
<g id="n83a"><circle cx="239.3" cy="1692.4" r="5.4"/></g><g id="n83b"><circle cx="272.7" cy="1692.4" r="5.4"/></g><g id="n83c"><circle cx="339.3" cy="1692.4" r="5.4"/></g><g id="n83d"><circle cx="376.7" cy="1692.4" r="5.4"/></g><g id="n83e"><circle cx="410" cy="1692.4" r="5.4"/></g>
<g id="n84a"><circle cx="239.3" cy="1712.7" r="5.4"/></g><g id="n84b"><circle cx="272.7" cy="1712.7" r="5.4"/></g><g id="n84c"><circle cx="339.3" cy="1712.7" r="5.4"/></g><g id="n84d"><circle cx="376.7" cy="1712.7" r="5.4"/></g><g id="n84e"><circle cx="410" cy="1712.7" r="5.4"/></g>
<g id="n85a"><circle cx="239.3" cy="1733" r="5.4"/></g><g id="n85b"><circle cx="272.7" cy="1733" r="5.4"/></g><g id="n85c"><circle cx="306" cy="1733" r="5.4"/></g><g id="n85d"><circle cx="339.3" cy="1733" r="5.4"/></g><g id="n85e"><circle cx="376.7" cy="1733" r="5.4"/></g><g id="n85f"><circle cx="410" cy="1733" r="5.4"/></g><g id="n85g"><circle cx="443.3" cy="1733" r="5.4"/></g>
<g id="n86a"><circle cx="239.3" cy="1753.2" r="5.4"/></g><g id="n86b"><circle cx="272.7" cy="1753.2" r="5.4"/></g><g id="n86c"><circle cx="306" cy="1753.2" r="5.4"/></g><g id="n86d"><circle cx="339.3" cy="1753.2" r="5.4"/></g><g id="n86e"><circle cx="376.7" cy="1753.2" r="5.4"/></g><g id="n86f"><circle cx="410" cy="1753.2" r="5.4"/></g><g id="n86g"><circle cx="443.3" cy="1753.2" r="5.4"/></g>
<g id="n87a"><circle cx="206" cy="1773.5" r="5.4"/></g><g id="n87b"><circle cx="239.3" cy="1773.5" r="5.4"/></g><g id="n87c"><circle cx="272.7" cy="1773.5" r="5.4"/></g><g id="n87d"><circle cx="306" cy="1773.5" r="5.4"/></g><g id="n87e"><circle cx="339.3" cy="1773.5" r="5.4"/></g><g id="n87f"><circle cx="376.7" cy="1773.5" r="5.4"/></g><g id="n87g"><circle cx="410" cy="1773.5" r="5.4"/></g>
<g id="n88a"><circle cx="206" cy="1793.8" r="5.4"/></g><g id="n88b"><circle cx="239.3" cy="1793.8" r="5.4"/></g><g id="n88c"><circle cx="272.7" cy="1793.8" r="5.4"/></g><g id="n88d"><circle cx="306" cy="1793.8" r="5.4"/></g><g id="n88e"><circle cx="339.3" cy="1793.8" r="5.4"/></g><g id="n88f"><circle cx="376.7" cy="1793.8" r="5.4"/></g><g id="n88g"><circle cx="410" cy="1793.8" r="5.4"/></g>
<g id="n89a"><circle cx="206" cy="1814" r="5.4"/></g><g id="n89b"><circle cx="272.7" cy="1814" r="5.4"/></g><g id="n89c"><circle cx="306" cy="1814" r="5.4"/></g><g id="n89d"><circle cx="339.3" cy="1814" r="5.4"/></g><g id="n89e"><circle cx="376.7" cy="1814" r="5.4"/></g><g id="n89f"><circle cx="410" cy="1814" r="5.4"/></g>
<g id="n90a"><circle cx="206" cy="1834.3" r="5.4"/></g><g id="n90b"><circle cx="272.7" cy="1834.3" r="5.4"/></g><g id="n90c"><circle cx="306" cy="1834.3" r="5.4"/></g><g id="n90d"><circle cx="339.3" cy="1834.3" r="5.4"/></g><g id="n90e"><circle cx="376.7" cy="1834.3" r="5.4"/></g><g id="n90f"><circle cx="410" cy="1834.3" r="5.4"/></g>
<g id="n91a"><circle cx="272.7" cy="1854.6" r="5.4"/></g><g id="n91b"><circle cx="306" cy="1854.6" r="5.4"/></g><g id="n91c"><circle cx="339.3" cy="1854.6" r="5.4"/></g><g id="n91d"><circle cx="376.7" cy="1854.6" r="5.4"/></g>
<g id="n92a"><circle cx="272.7" cy="1874.8" r="5.4"/></g><g id="n92b"><circle cx="306" cy="1874.8" r="5.4"/></g><g id="n92c"><circle cx="339.3" cy="1874.8" r="5.4"/></g><g id="n92d"><circle cx="380.7" cy="1874.8" r="5.4"/></g>
<g id="n93a"><circle cx="272.7" cy="1895.1" r="5.4"/></g><g id="n93b"><circle cx="322" cy="1895.1" r="5.4"/></g><g id="n93c"><circle cx="355.3" cy="1895.1" r="5.4"/></g><g id="n93d"><circle cx="388.7" cy="1895.1" r="5.4"/></g>
<g id="n94a"><circle cx="264.7" cy="1915.4" r="5.4"/></g><g id="n94b"><circle cx="322" cy="1915.4" r="5.4"/></g><g id="n94c"><circle cx="355.3" cy="1915.4" r="5.4"/></g><g id="n94d"><circle cx="388.7" cy="1915.4" r="5.4"/></g>
<g id="n95a"><circle cx="215.3" cy="1935.7" r="5.4"/></g><g id="n95b"><circle cx="264.7" cy="1935.7" r="5.4"/></g><g id="n95c"><circle cx="322" cy="1935.7" r="5.4"/></g><g id="n95d"><circle cx="356.7" cy="1935.7" r="5.4"/></g>
<g id="n96a"><circle cx="199.3" cy="1955.9" r="5.4"/></g><g id="n96b"><circle cx="264.7" cy="1955.9" r="5.4"/></g><g id="n96c"><circle cx="322" cy="1955.9" r="5.4"/></g><g id="n96d"><circle cx="356.7" cy="1955.9" r="5.4"/></g>
<g id="n97a"><circle cx="191.3" cy="1976.2" r="5.4"/></g><g id="n97b"><circle cx="231.3" cy="1976.2" r="5.4"/></g><g id="n97c"><circle cx="264.7" cy="1976.2" r="5.4"/></g><g id="n97d"><circle cx="324.7" cy="1976.2" r="5.4"/></g><g id="n97e"><circle cx="374" cy="1976.2" r="5.4"/></g>
<g id="n98a"><circle cx="191.3" cy="1996.5" r="5.4"/></g><g id="n98b"><circle cx="228.7" cy="1996.5" r="5.4"/></g><g id="n98c"><circle cx="264.7" cy="1996.5" r="5.4"/></g><g id="n98d"><circle cx="324.7" cy="1996.5" r="5.4"/></g><g id="n98e"><circle cx="382" cy="1996.5" r="5.4"/></g>
<g id="n99a"><circle cx="191.3" cy="2016.7" r="5.4"/></g><g id="n99b"><circle cx="224.7" cy="2016.7" r="5.4"/></g><g id="n99c"><circle cx="258" cy="2016.7" r="5.4"/></g><g id="n99d"><circle cx="291.3" cy="2016.7" r="5.4"/></g><g id="n99e"><circle cx="324.7" cy="2016.7" r="5.4"/></g><g id="n99f"><circle cx="358" cy="2016.7" r="5.4"/></g><g id="n99g"><circle cx="391.3" cy="2016.7" r="5.4"/></g>
<g id="n100a"><circle cx="191.3" cy="2037" r="5.4"/></g><g id="n100b"><circle cx="224.7" cy="2037" r="5.4"/></g><g id="n100c"><circle cx="258" cy="2037" r="5.4"/></g><g id="n100d"><circle cx="291.3" cy="2037" r="5.4"/></g><g id="n100e"><circle cx="324.7" cy="2037" r="5.4"/></g><g id="n100f"><circle cx="358" cy="2037" r="5.4"/></g><g id="n100g"><circle cx="391.3" cy="2037" r="5.4"/></g>
<g id="n101a"><circle cx="191.3" cy="2057.3" r="5.4"/></g><g id="n101b"><circle cx="291.3" cy="2057.3" r="5.4"/></g><g id="n101c"><circle cx="324.7" cy="2057.3" r="5.4"/></g><g id="n101d"><circle cx="358" cy="2057.3" r="5.4"/></g><g id="n101e"><circle cx="391.3" cy="2057.3" r="5.4"/></g>
<g id="n102a"><circle cx="191.3" cy="2077.5" r="5.4"/></g><g id="n102b"><circle cx="291.3" cy="2077.5" r="5.4"/></g><g id="n102c"><circle cx="324.7" cy="2077.5" r="5.4"/></g><g id="n102d"><circle cx="358" cy="2077.5" r="5.4"/></g><g id="n102e"><circle cx="391.3" cy="2077.5" r="5.4"/></g>
<g id="n103a"><circle cx="191.3" cy="2097.8" r="5.4"/></g><g id="n103b"><circle cx="291.3" cy="2097.8" r="5.4"/></g><g id="n103c"><circle cx="324.7" cy="2097.8" r="5.4"/></g><g id="n103d"><circle cx="358" cy="2097.8" r="5.4"/></g><g id="n103e"><circle cx="391.3" cy="2097.8" r="5.4"/></g>
<g id="n104a"><circle cx="191.3" cy="2118.1" r="5.4"/></g><g id="n104b"><circle cx="291.3" cy="2118.1" r="5.4"/></g><g id="n104c"><circle cx="324.7" cy="2118.1" r="5.4"/></g><g id="n104d"><circle cx="358" cy="2118.1" r="5.4"/></g><g id="n104e"><circle cx="391.3" cy="2118.1" r="5.4"/></g>
<g id="n105a"><circle cx="191.3" cy="2138.4" r="5.4"/></g><g id="n105b"><circle cx="291.3" cy="2138.4" r="5.4"/></g><g id="n105c"><circle cx="358" cy="2138.4" r="5.4"/></g><g id="n105d"><circle cx="391.3" cy="2138.4" r="5.4"/></g>
<g id="n106a"><circle cx="191.3" cy="2158.6" r="5.4"/></g><g id="n106b"><circle cx="291.3" cy="2158.6" r="5.4"/></g><g id="n106c"><circle cx="358" cy="2158.6" r="5.4"/></g><g id="n106d"><circle cx="391.3" cy="2158.6" r="5.4"/></g>
<g id="n107a"><circle cx="260.7" cy="2178.9" r="5.4"/></g><g id="n107b"><circle cx="299.3" cy="2178.9" r="5.4"/></g><g id="n107c"><circle cx="391.3" cy="2178.9" r="5.4"/></g>
<g id="n108a"><circle cx="244.7" cy="2199.2" r="5.4"/></g><g id="n108b"><circle cx="303.3" cy="2199.2" r="5.4"/></g><g id="n108c"><circle cx="391.3" cy="2199.2" r="5.4"/></g>
<g id="n109a"><circle cx="203.3" cy="2219.4" r="5.4"/></g><g id="n109b"><circle cx="236.7" cy="2219.4" r="5.4"/></g><g id="n109c"><circle cx="270" cy="2219.4" r="5.4"/></g><g id="n109d"><circle cx="303.3" cy="2219.4" r="5.4"/></g><g id="n109e"><circle cx="336.7" cy="2219.4" r="5.4"/></g><g id="n109f"><circle cx="386" cy="2219.4" r="5.4"/></g><g id="n109g"><circle cx="419.3" cy="2219.4" r="5.4"/></g>
<g id="n110a"><circle cx="203.3" cy="2239.7" r="5.4"/></g><g id="n110b"><circle cx="236.7" cy="2239.7" r="5.4"/></g><g id="n110c"><circle cx="270" cy="2239.7" r="5.4"/></g><g id="n110d"><circle cx="303.3" cy="2239.7" r="5.4"/></g><g id="n110e"><circle cx="336.7" cy="2239.7" r="5.4"/></g><g id="n110f"><circle cx="386" cy="2239.7" r="5.4"/></g><g id="n110g"><circle cx="419.3" cy="2239.7" r="5.4"/></g>
<g id="n111a"><circle cx="203.3" cy="2260" r="5.4"/></g><g id="n111b"><circle cx="270" cy="2260" r="5.4"/></g><g id="n111c"><circle cx="336.7" cy="2260" r="5.4"/></g><g id="n111d"><circle cx="386" cy="2260" r="5.4"/></g><g id="n111e"><circle cx="419.3" cy="2260" r="5.4"/></g>
<g id="n112a"><circle cx="203.3" cy="2280.2" r="5.4"/></g><g id="n112b"><circle cx="270" cy="2280.2" r="5.4"/></g><g id="n112c"><circle cx="336.7" cy="2280.2" r="5.4"/></g><g id="n112d"><circle cx="386" cy="2280.2" r="5.4"/></g><g id="n112e"><circle cx="419.3" cy="2280.2" r="5.4"/></g>
<g id="n113a"><circle cx="187.3" cy="2300.5" r="5.4"/></g><g id="n113b"><circle cx="220.7" cy="2300.5" r="5.4"/></g><g id="n113c"><circle cx="311.3" cy="2300.5" r="5.4"/></g><g id="n113d"><circle cx="344.7" cy="2300.5" r="5.4"/></g><g id="n113e"><circle cx="386" cy="2300.5" r="5.4"/></g>
<g id="n114a"><circle cx="187.3" cy="2320.8" r="5.4"/></g><g id="n114b"><circle cx="220.7" cy="2320.8" r="5.4"/></g><g id="n114c"><circle cx="311.3" cy="2320.8" r="5.4"/></g><g id="n114d"><circle cx="344.7" cy="2320.8" r="5.4"/></g><g id="n114e"><circle cx="386" cy="2320.8" r="5.4"/></g>
<g id="n115a"><circle cx="187.3" cy="2341.1" r="5.4"/></g><g id="n115b"><circle cx="220.7" cy="2341.1" r="5.4"/></g><g id="n115c"><circle cx="344.7" cy="2341.1" r="5.4"/></g>
<g id="n116a"><circle cx="187.3" cy="2361.3" r="5.4"/></g><g id="n116b"><circle cx="220.7" cy="2361.3" r="5.4"/></g><g id="n116c"><circle cx="344.7" cy="2361.3" r="5.4"/></g>
<g id="n117a"><circle cx="171.3" cy="2381.6" r="5.4"/></g><g id="n117b"><circle cx="204.7" cy="2381.6" r="5.4"/></g>
<g id="n118a"><circle cx="171.3" cy="2401.9" r="5.4"/></g><g id="n118b"><circle cx="204.7" cy="2401.9" r="5.4"/></g>
<g id="n119a"><circle cx="171.3" cy="2422.1" r="5.4"/></g><g id="n119b"><circle cx="204.7" cy="2422.1" r="5.4"/></g>
<g id="n120a"><circle cx="171.3" cy="2442.4" r="5.4"/></g><g id="n120b"><circle cx="204.7" cy="2442.4" r="5.4"/></g>
<g id="n121a"><circle cx="171.3" cy="2462.7" r="5.4"/></g><g id="n121b"><circle cx="204.7" cy="2462.7" r="5.4"/></g>
<g id="n122a"><circle cx="171.3" cy="2482.9" r="5.4"/></g><g id="n122b"><circle cx="204.7" cy="2482.9" r="5.4"/></g>
<g id="n123a"><circle cx="155.3" cy="2503.2" r="5.4"/></g><g id="n123b"><circle cx="188.7" cy="2503.2" r="5.4"/></g>
<g id="n124a"><circle cx="155.3" cy="2523.5" r="5.4"/></g><g id="n124b"><circle cx="188.7" cy="2523.5" r="5.4"/></g>
<g id="n125a"><circle cx="122" cy="2543.8" r="5.4"/></g><g id="n125b"><circle cx="158" cy="2543.8" r="5.4"/></g>
<g id="n126a"><circle cx="106" cy="2564" r="5.4"/></g><g id="n126b"><circle cx="160.7" cy="2564" r="5.4"/></g>
<g id="n127a"><circle cx="98" cy="2584.3" r="5.4"/></g><g id="n127b"><circle cx="166" cy="2584.3" r="5.4"/></g>
<g id="n128a"><circle cx="94" cy="2604.6" r="5.4"/></g><g id="n128b"><circle cx="176.7" cy="2604.6" r="5.4"/></g>
<g id="n129a"><circle cx="34" cy="2624.8" r="5.4"/></g><g id="n129b"><circle cx="76.7" cy="2624.8" r="5.4"/></g><g id="n129c"><circle cx="110" cy="2624.8" r="5.4"/></g><g id="n129d"><circle cx="176.7" cy="2624.8" r="5.4"/></g><g id="n129e"><circle cx="210" cy="2624.8" r="5.4"/></g>
<g id="n130a"><circle cx="18" cy="2645.1" r="5.4"/></g><g id="n130b"><circle cx="76.7" cy="2645.1" r="5.4"/></g><g id="n130c"><circle cx="110" cy="2645.1" r="5.4"/></g><g id="n130d"><circle cx="176.7" cy="2645.1" r="5.4"/></g><g id="n130e"><circle cx="210" cy="2645.1" r="5.4"/></g>
<g id="n131a"><circle cx="10" cy="2665.4" r="5.4"/></g><g id="n131b"><circle cx="43.3" cy="2665.4" r="5.4"/></g><g id="n131c"><circle cx="76.7" cy="2665.4" r="5.4"/></g><g id="n131d"><circle cx="110" cy="2665.4" r="5.4"/></g><g id="n131e"><circle cx="143.3" cy="2665.4" r="5.4"/></g><g id="n131f"><circle cx="176.7" cy="2665.4" r="5.4"/></g><g id="n131g"><circle cx="210" cy="2665.4" r="5.4"/></g>
<g id="n132a"><circle cx="10" cy="2685.6" r="5.4"/></g><g id="n132b"><circle cx="43.3" cy="2685.6" r="5.4"/></g><g id="n132c"><circle cx="76.7" cy="2685.6" r="5.4"/></g><g id="n132d"><circle cx="110" cy="2685.6" r="5.4"/></g><g id="n132e"><circle cx="143.3" cy="2685.6" r="5.4"/></g><g id="n132f"><circle cx="176.7" cy="2685.6" r="5.4"/></g><g id="n132g"><circle cx="210" cy="2685.6" r="5.4"/></g>
<g id="n133a"><circle cx="10" cy="2705.9" r="5.4"/></g><g id="n133b"><circle cx="76.7" cy="2705.9" r="5.4"/></g><g id="n133c"><circle cx="143.3" cy="2705.9" r="5.4"/></g><g id="n133d"><circle cx="176.7" cy="2705.9" r="5.4"/></g><g id="n133e"><circle cx="210" cy="2705.9" r="5.4"/></g><g id="n133f"><circle cx="243.3" cy="2705.9" r="5.4"/></g>
<g id="n134a"><circle cx="10" cy="2726.2" r="5.4"/></g><g id="n134b"><circle cx="76.7" cy="2726.2" r="5.4"/></g><g id="n134c"><circle cx="143.3" cy="2726.2" r="5.4"/></g><g id="n134d"><circle cx="176.7" cy="2726.2" r="5.4"/></g><g id="n134e"><circle cx="210" cy="2726.2" r="5.4"/></g><g id="n134f"><circle cx="243.3" cy="2726.2" r="5.4"/></g>
<g id="n135a"><circle cx="76.7" cy="2746.5" r="5.4"/></g><g id="n135b"><circle cx="143.3" cy="2746.5" r="5.4"/></g><g id="n135c"><circle cx="176.7" cy="2746.5" r="5.4"/></g><g id="n135d"><circle cx="210" cy="2746.5" r="5.4"/></g><g id="n135e"><circle cx="243.3" cy="2746.5" r="5.4"/></g>
<g id="n136a"><circle cx="76.7" cy="2766.7" r="5.4"/></g><g id="n136b"><circle cx="143.3" cy="2766.7" r="5.4"/></g><g id="n136c"><circle cx="176.7" cy="2766.7" r="5.4"/></g><g id="n136d"><circle cx="210" cy="2766.7" r="5.4"/></g><g id="n136e"><circle cx="243.3" cy="2766.7" r="5.4"/></g>
<g id="n137a"><circle cx="76.7" cy="2787" r="5.4"/></g><g id="n137b"><circle cx="176.7" cy="2787" r="5.4"/></g>
<g id="n138a"><circle cx="76.7" cy="2807.3" r="5.4"/></g><g id="n138b"><circle cx="176.7" cy="2807.3" r="5.4"/></g>
<g id="n139a"><circle cx="76.7" cy="2827.5" r="5.4"/></g>
<g id="n140a"><circle cx="76.7" cy="2847.8" r="5.4"/></g>
<g id="n141a"><circle cx="60.7" cy="2868.1" r="5.4"/></g><g id="n141b"><circle cx="94" cy="2868.1" r="5.4"/></g>
<g id="n142a"><circle cx="60.7" cy="2888.3" r="5.4"/></g><g id="n142b"><circle cx="94" cy="2888.3" r="5.4"/></g>
<g id="n143a"><circle cx="27.3" cy="2908.6" r="5.4"/></g><g id="n143b"><circle cx="60.7" cy="2908.6" r="5.4"/></g><g id="n143c"><circle cx="94" cy="2908.6" r="5.4"/></g>
<g id="n144a"><circle cx="27.3" cy="2928.9" r="5.4"/></g><g id="n144b"><circle cx="60.7" cy="2928.9" r="5.4"/></g><g id="n144c"><circle cx="94" cy="2928.9" r="5.4"/></g>
<g id="n145a"><circle cx="60.7" cy="2949.2" r="5.4"/></g>
<g id="n146a"><circle cx="60.7" cy="2969.4" r="5.4"/></g>
<g id="n147a"><circle cx="60.7" cy="2989.7" r="5.4"/></g>
<g id="n148a"><circle cx="60.7" cy="3010" r="5.4"/></g>
</g>
</svg>
